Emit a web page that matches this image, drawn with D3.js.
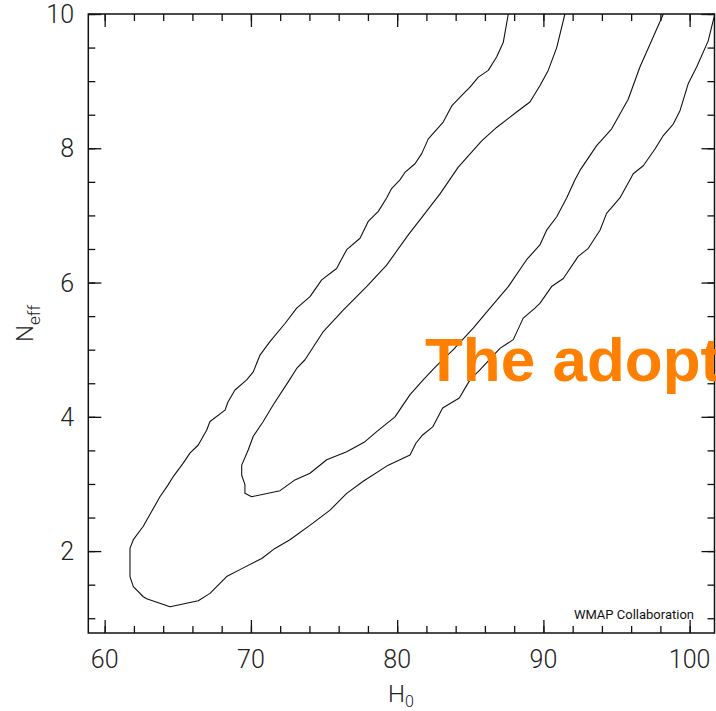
<!DOCTYPE html>
<html>
<head>
<meta charset="utf-8">
<script src="https://cdn.jsdelivr.net/npm/d3@7"></script>
<style>
  html, body { margin: 0; padding: 0; background: #fff; overflow: hidden; }
  svg { display: block; }
</style>
</head>
<body>
<svg id="chart" width="716" height="711"></svg>
<script>
// H0 (km/s/Mpc) vs N_eff likelihood contours: outer (95%) and inner (68%) levels
const outerH0 = [87.60, 87.26, 86.80, 86.23, 85.55, 84.98, 84.52, 83.73, 83.15, 82.13, 81.68, 81.22, 80.53, 80.19,
  79.62, 79.28, 78.71, 78.02, 77.46, 76.55, 75.86, 74.84, 74.04, 73.13, 72.33, 71.30, 70.62, 70.16, 69.71, 68.91,
  68.43, 68.23, 67.20, 66.97, 66.40, 65.83, 65.37, 64.69, 64.35, 63.78, 63.21, 62.64, 61.96, 61.73, 61.73, 61.96,
  62.64, 62.87, 64.47, 66.40, 67.20, 68.34, 69.48, 70.74, 71.64, 72.67, 74.26, 75.41, 76.55, 77.68, 79.39, 80.88,
  81.29, 81.74, 82.43, 83.11, 84.25, 84.98, 85.66, 87.03, 87.94, 88.62, 89.42, 89.76, 90.56, 91.36, 92.38, 93.07,
  93.87, 94.32, 95.23, 95.92, 96.14, 96.83, 97.63, 98.20, 98.88, 99.34, 99.90, 100.48, 101.27, 101.61, 101.73];
const outerNeff = [10.00, 9.58, 9.36, 9.16, 9.06, 8.91, 8.81, 8.63, 8.39, 8.14, 7.92, 7.77, 7.64, 7.53,
  7.40, 7.26, 7.06, 6.91, 6.66, 6.49, 6.21, 6.04, 5.79, 5.62, 5.39, 5.12, 4.92, 4.67, 4.55, 4.40,
  4.22, 4.10, 3.93, 3.80, 3.58, 3.46, 3.31, 3.11, 2.99, 2.81, 2.59, 2.37, 2.17, 2.04, 1.62, 1.47,
  1.32, 1.29, 1.17, 1.26, 1.37, 1.62, 1.75, 1.89, 2.04, 2.17, 2.42, 2.61, 2.86, 3.04, 3.28, 3.43,
  3.61, 3.73, 3.85, 4.13, 4.28, 4.55, 4.70, 5.02, 5.15, 5.47, 5.62, 5.69, 5.94, 6.06, 6.39, 6.51,
  6.78, 7.03, 7.26, 7.53, 7.62, 7.74, 7.99, 8.19, 8.36, 8.56, 8.96, 9.21, 9.60, 9.90, 10.00];

const innerH0 = [91.47, 90.91, 90.33, 89.76, 89.08, 88.17, 86.80, 85.78, 84.18, 82.93, 81.90, 80.76, 79.28, 77.91,
  76.31, 74.95, 73.70, 73.13, 72.55, 71.53, 70.84, 70.16, 69.82, 69.37, 69.37, 69.59, 69.59, 70.05, 71.99, 73.01,
  74.04, 75.18, 76.55, 77.80, 78.60, 79.85, 80.88, 81.78, 82.65, 83.84, 85.20, 86.35, 87.60, 88.85, 89.76, 90.22,
  90.91, 91.59, 92.16, 92.50, 93.64, 94.67, 95.80, 96.60, 97.29, 98.20];
const innerNeff = [10.00, 9.50, 9.16, 8.93, 8.69, 8.54, 8.31, 8.11, 7.72, 7.32, 7.03, 6.71, 6.26, 5.94,
  5.59, 5.27, 4.85, 4.72, 4.52, 4.18, 3.93, 3.71, 3.51, 3.28, 3.13, 2.99, 2.86, 2.81, 2.90, 3.06,
  3.16, 3.36, 3.48, 3.63, 3.78, 4.00, 4.33, 4.55, 4.75, 5.00, 5.32, 5.62, 5.94, 6.34, 6.56, 6.78,
  6.98, 7.26, 7.53, 7.67, 8.04, 8.29, 8.73, 9.21, 9.55, 10.00];

const xDomain = [58.88, 101.7];
const yDomain = [0.78, 10];
const xMajorTicks = [60, 70, 80, 90, 100];
const xMinorTicks = d3.range(60, 101.7, 2);
const yMajorTicks = [2, 4, 6, 8, 10];
const yMinorTicks = d3.range(1, 10.01, 0.5);
const xTickLabels = ["60", "70", "80", "90", "100"];
const yTickLabels = ["2", "4", "6", "8", "10"];

const svg = d3.select("#chart");
const plotLeft = 88.3, plotRight = 714.5, plotTop = 14, plotBottom = 633;
const x = d3.scaleLinear().domain(xDomain).range([plotLeft, plotRight]);
const y = d3.scaleLinear().domain(yDomain).range([plotBottom, plotTop]);

const labelFont = "Roboto, 'Liberation Sans', sans-serif";

// clip for the contour lines
svg.append("defs").append("clipPath").attr("id", "plotClip")
  .append("rect").attr("x", plotLeft).attr("y", plotTop)
  .attr("width", plotRight - plotLeft).attr("height", plotBottom - plotTop);

// contours
const line = d3.line().x(d => x(d[0])).y(d => y(d[1]));
const contours = [
  d3.zip(outerH0, outerNeff),
  d3.zip(innerH0, innerNeff)
];
svg.append("g").attr("clip-path", "url(#plotClip)")
  .selectAll("path").data(contours).join("path")
  .attr("d", line)
  .attr("fill", "none")
  .attr("stroke", "#111")
  .attr("stroke-width", 1.1)
  .attr("stroke-linejoin", "round");

// axes with inward ticks on all four sides
function tickAxis(axisFn, scale, ticks, size) {
  return axisFn(scale).tickValues(ticks).tickSize(size).tickFormat("");
}
const axes = svg.append("g").attr("class", "axes");
function drawAxis(gen, transform) {
  const g = axes.append("g").attr("transform", transform).call(gen);
  g.select(".domain").remove();
  g.selectAll("line").attr("stroke", "#111").attr("stroke-width", 1.3);
  return g;
}
// bottom (ticks pointing up)
drawAxis(tickAxis(d3.axisTop, x, xMajorTicks, 13), `translate(0,${plotBottom})`);
drawAxis(tickAxis(d3.axisTop, x, xMinorTicks, 7), `translate(0,${plotBottom})`);
// top (ticks pointing down)
drawAxis(tickAxis(d3.axisBottom, x, xMajorTicks, 13), `translate(0,${plotTop})`);
drawAxis(tickAxis(d3.axisBottom, x, xMinorTicks, 7), `translate(0,${plotTop})`);
// left (ticks pointing right)
drawAxis(tickAxis(d3.axisRight, y, yMajorTicks, 13), `translate(${plotLeft},0)`);
drawAxis(tickAxis(d3.axisRight, y, yMinorTicks, 7), `translate(${plotLeft},0)`);
// right (ticks pointing left)
drawAxis(tickAxis(d3.axisLeft, y, yMajorTicks, 13), `translate(${plotRight},0)`);
drawAxis(tickAxis(d3.axisLeft, y, yMinorTicks, 7), `translate(${plotRight},0)`);

// frame
svg.append("rect")
  .attr("x", plotLeft).attr("y", plotTop)
  .attr("width", plotRight - plotLeft).attr("height", plotBottom - plotTop)
  .attr("fill", "none").attr("stroke", "#111").attr("stroke-width", 1.5);

// tick labels
svg.append("g").selectAll("text").data(xMajorTicks).join("text")
  .attr("x", d => x(d)).attr("y", 668)
  .attr("text-anchor", "middle")
  .attr("font-family", labelFont).attr("font-weight", 300)
  .attr("font-size", 25).attr("fill", "#222")
  .text((d, i) => xTickLabels[i]);

svg.append("g").selectAll("text").data(yMajorTicks).join("text")
  .attr("x", 74).attr("y", d => y(d))
  .attr("dy", "0.36em")
  .attr("text-anchor", "end")
  .attr("font-family", labelFont).attr("font-weight", 300)
  .attr("font-size", 25).attr("fill", "#222")
  .text((d, i) => yTickLabels[i]);

// axis titles
const xt = svg.append("text")
  .attr("x", 401).attr("y", 702)
  .attr("text-anchor", "middle")
  .attr("font-family", labelFont).attr("font-weight", 300)
  .attr("font-size", 24).attr("fill", "#222");
xt.append("tspan").text("H");
xt.append("tspan").attr("font-size", 16).attr("dy", 5).text("0");

const yt = svg.append("text")
  .attr("transform", `translate(33,${(plotTop + plotBottom) / 2}) rotate(-90)`)
  .attr("text-anchor", "middle")
  .attr("font-family", labelFont).attr("font-weight", 300)
  .attr("font-size", 24).attr("fill", "#222");
yt.append("tspan").text("N");
yt.append("tspan").attr("font-size", 17).attr("dy", 7).text("eff");

// credit
svg.append("text")
  .attr("x", 694).attr("y", 619)
  .attr("text-anchor", "end")
  .attr("font-family", labelFont)
  .attr("font-size", 13).attr("fill", "#111")
  .text("WMAP Collaboration");

// overlay caption
svg.append("text")
  .attr("x", 425).attr("y", 381)
  .attr("font-family", "'Liberation Sans', Arial, sans-serif")
  .attr("font-weight", "bold")
  .attr("font-size", 62)
  .attr("fill", "#ff7f00")
  .text("The adopt");
</script>
</body>
</html>
